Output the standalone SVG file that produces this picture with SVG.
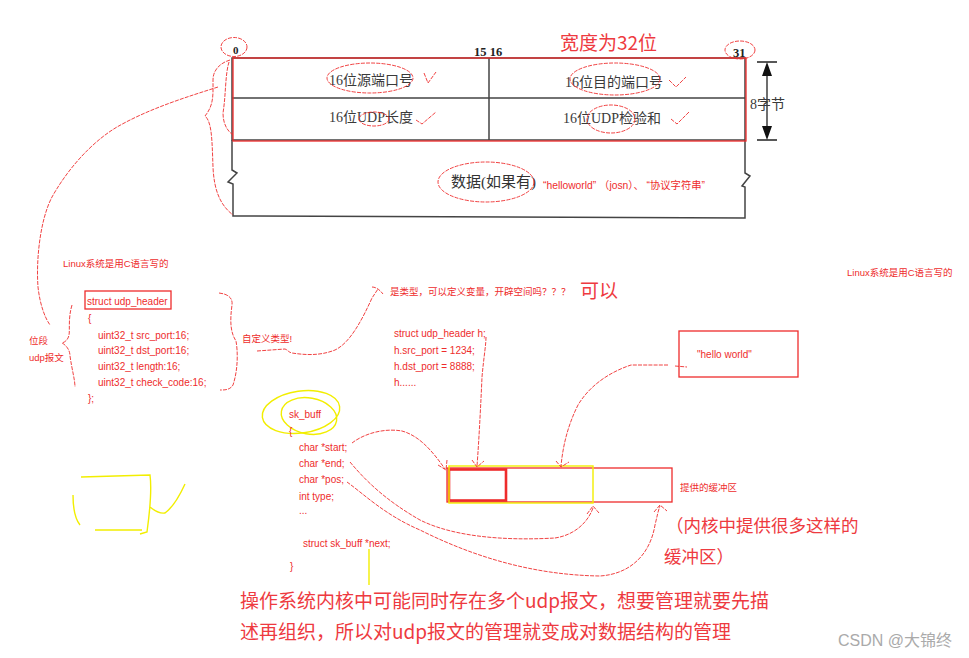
<svg xmlns="http://www.w3.org/2000/svg" width="969" height="658" viewBox="0 0 969 658">
<style>
.hdr{font-family:"Liberation Serif","Noto Sans CJK SC",serif;font-size:14px;fill:#3a3a3a}
.num{font-family:"Liberation Serif",serif;font-size:11px;font-weight:bold;fill:#222}
.ln{stroke:#444;stroke-width:1.5;fill:none}
.sm{font-family:"Liberation Sans","Noto Sans CJK SC",sans-serif;font-size:9.5px;fill:#ee2c2c}
.code{font-family:"Liberation Sans","Noto Sans CJK SC",sans-serif;font-size:10px;fill:#ee2c2c}
.big{font-family:"Noto Sans CJK SC",sans-serif;fill:#ee3a40}
.hand{stroke:#ee2c2c;stroke-width:0.9;fill:none;stroke-dasharray:4 1.2}
.box{stroke:#ee2c2c;stroke-width:1.3;fill:none}
.yel{stroke:#f2ee00;stroke-width:1.4;fill:none}
</style>

<!-- UDP header diagram -->
<g id="udp-header">
  <path class="ln" d="M232,58 H745 V140 H232 Z M489,58 V140 M232,98 H745"/>
  <path class="ln" d="M232,140 V170 L237,173 L228,182 L233,184 V216 L745,218 V187 L742,186 L750,176 L745,173 V140"/>
  <rect class="box" x="233" y="58" width="513" height="83"/>
  <text class="num" x="233" y="54">0</text>
  <text class="num" x="474" y="56" style="font-size:12.5px">15 16</text>
  <text class="num" x="733" y="57" style="font-size:12.5px">31</text>
  <text class="big" x="560" y="50" font-size="19">宽度为32位</text>
  <text class="hdr" x="329" y="85">16位源端口号</text>
  <text class="hdr" x="565" y="87">16位目的端口号</text>
  <text class="hdr" x="329" y="122">16位UDP长度</text>
  <text class="hdr" x="563" y="123">16位UDP检验和</text>
  <path stroke="#222" stroke-width="1.3" fill="none" d="M757,62 H777 M757,140 H777 M767,72 V130"/>
  <path fill="#111" d="M767,62 L762,76 H772 Z M767,140 L762,126 H772 Z"/>
  <text class="hdr" x="750" y="109">8字节</text>
  <text class="hdr" x="451" y="187" style="font-size:15px;fill:#333">数据(如果有)</text>
  <text class="sm" x="543" y="189" style="font-size:10.3px">“helloworld” （josn）、 “协议字符串”</text>
</g>

<!-- annotations on header -->
<g id="header-marks">
  <ellipse class="hand" cx="234" cy="47" rx="13" ry="9.5"/>
  <ellipse class="hand" cx="740" cy="50" rx="15" ry="9"/>
  <ellipse class="hand" cx="370" cy="78" rx="43" ry="15"/>
  <ellipse class="hand" cx="615" cy="79" rx="45" ry="16"/>
  <ellipse class="hand" cx="374" cy="119" rx="15" ry="7"/>
  <ellipse class="hand" cx="611" cy="119" rx="24" ry="14"/>
  <ellipse class="hand" cx="486" cy="182" rx="48" ry="20"/>
  <path class="hand" d="M424,73 L428,83 L436,72 M669,80 L676,87 L686,77 M416,120 L422,124 L436,112 M671,119 L677,124 L689,112"/>
  <path class="hand" d="M230,60 C220,63 213,70 213,80 C213,95 214,105 205,116 C212,122 212,140 213,167 C214,190 220,205 233,215"/>
  <path class="hand" d="M229,62 C225,75 226,95 223,113 C223,122 226,130 233,135"/>
</g>

<!-- left code block -->
<g id="udp-struct">
  <text class="sm" x="63" y="267">Linux系统是用C语言写的</text>
  <rect class="box" x="85" y="291" width="86" height="18"/>
  <text class="code" x="87" y="305">struct udp_header</text>
  <text class="code" x="88" y="322">{</text>
  <text class="code" x="98" y="339">uint32_t src_port:16;</text>
  <text class="code" x="98" y="354">uint32_t dst_port:16;</text>
  <text class="code" x="98" y="370">uint32_t length:16;</text>
  <text class="code" x="98" y="386">uint32_t check_code:16;</text>
  <text class="code" x="88" y="402">};</text>
  <text class="sm" x="29" y="344">位段</text>
  <text class="sm" x="29" y="361">udp报文</text>
  <path class="hand" d="M72,305 C68,318 70,330 69,335 C68,340 65,342 62,343 C66,345 70,350 70,356 C72,370 75,380 75,387"/>
  <path class="hand" d="M219,293 C228,294 233,298 232,305 C230,320 230,332 236,341 C238,352 238,370 233,385 C230,390 225,390 220,390"/>
  <text class="sm" x="242" y="342">自定义类型!</text>
</g>

<g id="question">
  <text class="sm" x="390" y="295">是类型，可以定义变量，开辟空间吗？？？</text>
  <text class="big" x="580" y="298" font-size="19">可以</text>
</g>

<g id="var-code">
  <text class="code" x="394" y="337">struct udp_header h;</text>
  <text class="code" x="394" y="354">h.src_port = 1234;</text>
  <text class="code" x="394" y="370">h.dst_port = 8888;</text>
  <text class="code" x="394" y="386">h......</text>
</g>

<g id="hello-box">
  <rect class="box" x="679" y="331" width="119" height="46"/>
  <text class="code" x="697" y="358">"hello world"</text>
</g>

<g id="sk-buff">
  <ellipse class="yel" cx="301" cy="412" rx="39" ry="21" transform="rotate(-8 301 412)"/>
  <ellipse class="yel" cx="309" cy="416" rx="28" ry="18" transform="rotate(10 309 416)"/>
  <text class="code" x="289" y="418">sk_buff</text>
  <text class="code" x="289" y="435">{</text>
  <text class="code" x="299" y="451">char *start;</text>
  <text class="code" x="299" y="467">char *end;</text>
  <text class="code" x="299" y="483">char *pos;</text>
  <text class="code" x="299" y="500">int type;</text>
  <text class="code" x="299" y="514">...</text>
  <text class="code" x="303" y="547">struct sk_buff *next;</text>
  <text class="code" x="290" y="570">}</text>
  <path class="yel" d="M369,549 V585"/>
</g>

<g id="buffer">
  <rect class="box" x="447" y="468" width="225" height="34"/>
  <rect x="449" y="469.5" width="57" height="31" fill="none" stroke="#ee2c2c" stroke-width="2.6"/>
  <rect class="yel" x="449" y="466" width="144" height="37"/>
  <text class="sm" x="680" y="491">提供的缓冲区</text>
</g>

<g id="cup">
  <path class="yel" d="M81,477 L150,475 C152,490 150,510 147,532 L140,534 M142,530 L95,530 M73,495 C73,510 76,520 80,525 M150,507 C155,511 160,514 165,513 C172,508 180,495 185,484"/>
</g>

<!-- connectors -->
<g id="connectors">
  <path class="hand" d="M218,87 C190,96 150,108 117,127 C95,140 70,165 52,197 C40,220 36,260 38,287 C40,305 45,318 50,325"/>
  <path class="hand" d="M257,351 L285,349 C288,350 288,352 292,353 C305,355 320,356 335,350 C350,343 362,320 372,298 L378,289 M372,287 C376,287 380,290 383,294"/>
  <path class="hand" d="M486,337 C486,345 484,355 482,377 C481,400 479,440 477,466 M472,460 L477,467 L484,461"/>
  <path class="hand" d="M668,365 H631 C610,372 590,385 578,405 C568,425 563,445 561,466 M556,461 L561,467 L569,462 M675,366 L687,367"/>
  <path class="hand" d="M352,443 C365,433 385,428 402,431 C420,436 433,452 445,469 M438,465 L446,470 L447,460"/>
  <path class="hand" d="M350,462 C365,480 385,500 420,520 C460,540 520,540 555,538 C575,535 588,522 593,508 M587,514 L593,506 L599,513"/>
  <path class="hand" d="M347,482 C365,495 385,515 420,530 C470,555 530,575 600,576 C630,574 650,555 655,525 C657,517 658,511 660,506 M654,512 L660,505 L667,511"/>
</g>

<g id="notes">
  <text class="big" x="666" y="532" font-size="17.5">（内核中提供很多这样的</text>
  <text class="big" x="664" y="563" font-size="17.5">缓冲区）</text>
  <text class="sm" x="847" y="276">Linux系统是用C语言写的</text>
  <text class="big" x="240" y="608" font-size="19">操作系统内核中可能同时存在多个udp报文，想要管理就要先描</text>
  <text class="big" x="240" y="639" font-size="19">述再组织，所以对udp报文的管理就变成对数据结构的管理</text>
  <text x="838" y="646" font-family="Liberation Sans,Noto Sans CJK SC,sans-serif" font-size="16" fill="#aaaaaa">CSDN @大锦终</text>
</g>
</svg>
